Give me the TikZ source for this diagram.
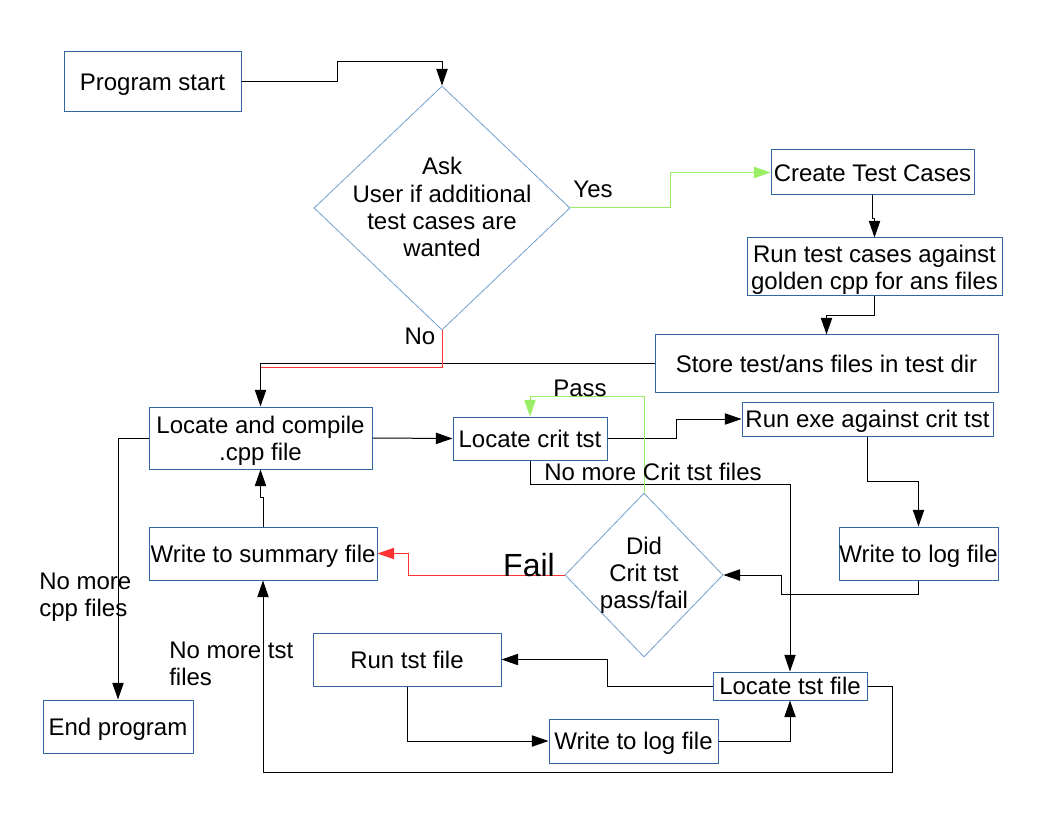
\documentclass[tikz,border=0pt]{standalone}
\usepackage{fontspec}
\setmainfont{Liberation Sans}
\usetikzlibrary{shapes.geometric,arrows.meta}
\definecolor{boxblue}{HTML}{3465A4}
\definecolor{diablue}{HTML}{729FCF}
\definecolor{okgreen}{HTML}{99EE66}
\definecolor{failred}{HTML}{FF3333}
\newcommand\lowr[1]{\raisebox{-2.25pt}[\height][\depth]{#1}}
\tikzset{
  wh/.style 2 args={minimum width={#1*0.75pt}, minimum height={#2*0.75pt}},
  box/.style={draw=boxblue, line width=0.75pt, inner sep=0pt, font=\fontsize{18}{20.3}\selectfont, text height=16.3pt, text depth=3.5pt},
  boxtwo/.style={draw=boxblue, line width=0.75pt, inner sep=0pt, align=center, font=\fontsize{18}{20.3}\selectfont},
  dia/.style={draw=diablue, line width=0.6pt, diamond, inner sep=0pt},
  dtext/.style={align=center, inner sep=0pt, font=\fontsize{18}{20.3}\selectfont},
  lbl/.style={inner sep=0pt, font=\fontsize{18}{20.3}\selectfont},
  conn/.style={line width=0.75pt, -{Triangle[length=12.5pt,width=8.5pt]}},
  plain/.style={line width=0.75pt},
}
\begin{document}
\begin{tikzpicture}[x=0.75pt,y=-0.75pt]
\useasboundingbox (0,0) rectangle (1056,816);
% boxes
\node[box, wh={177}{60}] (start) at (152.5,82) {Program start};
\node[dia, wh={256}{244}] (d1) at (442,208) {};
\node[dtext] (d1t) at (442,207) {Ask\\User if additional\\test cases are\\wanted};
\node[box, wh={203}{45}] (create) at (872.5,172.5) {Create Test Cases};
\node[boxtwo, wh={255}{58}] (runtest) at (874.5,267) {\lowr{Run test cases against}\\\lowr{golden cpp for ans files}};
\node[box, wh={343}{57}] (store) at (826.5,363.5) {Store test/ans files in test dir};
\node[box, wh={251}{34}] (runexe) at (867.5,419) {Run exe against crit tst};
\node[boxtwo, wh={223}{62}] (compile) at (260.5,438) {\lowr{Locate and compile}\\\lowr{.cpp file}};
\node[box, wh={154}{43}] (crit) at (530,438.5) {Locate crit tst};
\node[box, wh={228}{53}] (summary) at (263,553.5) {Write to summary file};
\node[box, wh={150}{53}] (endp) at (118,726.5) {End program};
\node[dia, wh={158}{164}] (d2) at (644,575) {};
\node[dtext] (d2t) at (644,575) {Did\\Crit tst\\pass/fail};
\node[box, wh={159}{53}] (logA) at (918.5,553.5) {Write to log file};
\node[box, wh={188}{53}] (runtst) at (407,659.5) {Run tst file};
\node[box, wh={154}{28}] (loctst) at (790,686) {Locate tst file};
\node[box, wh={169}{44}] (logB) at (633.5,741) {Write to log file};
\coordinate (nojoin) at (260.5,368);
% connectors
\draw[conn] (start.east) -| (337,62) -| (d1.north);
\draw[conn, draw=okgreen] (d1.east) -| (670,172.5) -- (create.west);
\draw[conn] (create.south) -- ++(0,23) -| (runtest.north);
\draw[conn] (runtest.south) -- ++(0,19) -| (store.north);
\draw[conn] (store.west) -| (compile.north);
\draw[plain, draw=failred] (d1.south) |- (nojoin);
\draw[conn] (compile.east) -- (crit.west);
\draw[conn] (crit.east) -| (676,419) -- (runexe.west);
\draw[conn] (runexe.south) -- ++(0,45) -| (logA.north);
\draw[conn] (logA.south) |- (781,594) |- (d2.east);
\draw[conn, draw=failred] (d2.west) -| (408,553.5) -- (summary.east);
\draw[conn] (crit.south) -- ++(0,23.5) -| (loctst.north);
\draw[conn, draw=okgreen] (d2.north) -- ++(0,-96) -| (crit.north);
\draw[conn] (summary.north) -- ++(0,-29) -| (compile.south);
\draw[conn] (compile.west) -| (endp.north);
\draw[conn] (loctst.west) -| (607,659.5) -- (runtst.east);
\draw[conn] (runtst.south) |- (logB.west);
\draw[conn] (logB.east) -| (loctst.south);
\draw[conn] (loctst.east) -| (892,772) -| (summary.south);
% labels
\node[lbl] (lyes) at (593,189) {Yes};
\node[lbl] (lno) at (420,336) {No};
\node[lbl] (lpass) at (580,388) {Pass};
\node[lbl] (lnocrit) at (653,472) {No more Crit tst files};
\node[lbl, font=\fontsize{24}{27}\selectfont] (lfail) at (529,565) {Fail};
\node[lbl, anchor=west, align=left] (lnocpp) at (39,597) {No more\\cpp files};
\node[lbl, anchor=west, align=left] (lnotst) at (169,664) {No more tst\\files};
\end{tikzpicture}
\end{document}
